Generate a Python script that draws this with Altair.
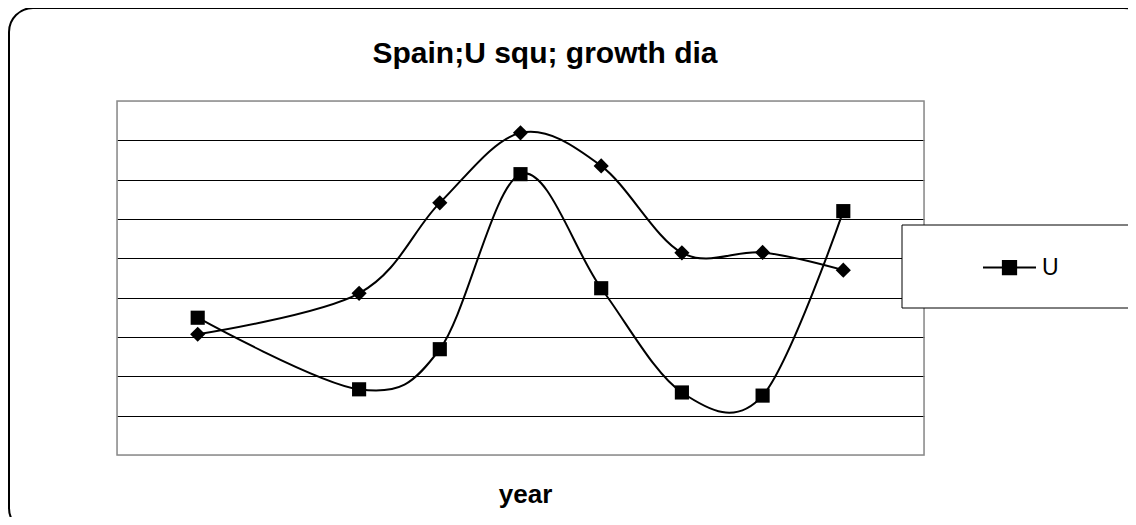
import altair as alt
import pandas as pd

# ---- data ----
years = [1, 3, 4, 5, 6, 7, 8, 9]
u_values = [3.49, 1.67, 2.69, 7.14, 4.24, 1.59, 1.51, 6.20]
growth_values = [3.07, 4.11, 6.41, 8.19, 7.35, 5.14, 5.15, 4.70]
u_label = "U"
title_text = "Spain;U squ; growth dia"
x_title = "year"
grid_values = [1, 2, 3, 4, 5, 6, 7, 8]

W, H = 807, 354
FONT = "Liberation Sans"

u_df = pd.DataFrame({"year": years, "value": u_values, "series": [u_label] * len(years)})
g_df = pd.DataFrame({"year": years, "value": growth_values})

x_enc = alt.X(
    "year:Q",
    scale=alt.Scale(domain=[0, 10], nice=False, zero=False),
    axis=alt.Axis(
        labels=False, ticks=False, domain=False, grid=False, title=x_title,
        titleFont=FONT, titleFontSize=26, titleFontWeight="bold", titleColor="black",
        titleBaseline="alphabetic", titleY=47, titleX=408, titleAlign="center",
    ),
)
y_enc = alt.Y(
    "value:Q",
    scale=alt.Scale(domain=[0, 9], nice=False, zero=False),
    axis=alt.Axis(
        values=grid_values, labels=False, ticks=False, domain=False, grid=True,
        gridColor="black", gridWidth=1, gridOpacity=1, title=None,
    ),
)

one = alt.Data(values=[{}])

outer = alt.Chart(one).mark_rect(
    cornerRadius=24, fillOpacity=0, stroke="black", strokeWidth=2
).encode(x=alt.value(-108), x2=alt.value(1031), y=alt.value(-93), y2=alt.value(431))

title_mark = alt.Chart(one).mark_text(
    text=title_text, font=FONT, fontSize=30, fontWeight="bold", color="black",
    align="center", baseline="alphabetic",
).encode(x=alt.value(428), y=alt.value(-38))

plot_border = alt.Chart(one).mark_rect(
    fillOpacity=0, stroke="#8a8a8a", strokeWidth=1.5
).encode(x=alt.value(0), x2=alt.value(W), y=alt.value(0), y2=alt.value(H))

growth = alt.Chart(g_df).mark_line(
    interpolate="cardinal", color="black", strokeWidth=2,
    point=alt.OverlayMarkDef(shape="diamond", size=230, filled=True, color="black", opacity=1),
).encode(x=x_enc, y=y_enc)

leg = alt.Legend(
    title=None, orient="none", legendX=865, legendY=139,
    symbolType="M-1,0H1M-0.25,-0.25H0.25V0.25H-0.25Z", symbolSize=2809,
    symbolStrokeWidth=2, symbolFillColor="black", symbolStrokeColor="black", symbolOpacity=1,
    labelFont=FONT, labelFontSize=23, labelColor="black", labelOffset=5, padding=0,
)

u_line = alt.Chart(u_df).mark_line(
    interpolate="cardinal", strokeWidth=2,
    point=alt.OverlayMarkDef(shape="square", size=200, filled=True, opacity=1),
).encode(
    x="year:Q", y="value:Q",
    color=alt.Color("series:N", scale=alt.Scale(domain=[u_label], range=["black"]), legend=leg),
)

legend_box = alt.Chart(one).mark_rect(
    fill="white", stroke="black", strokeWidth=1
).encode(x=alt.value(785), x2=alt.value(1012), y=alt.value(124), y2=alt.value(207))

chart = alt.layer(outer, title_mark, plot_border, growth, u_line, legend_box).properties(
    width=W, height=H,
    autosize=alt.AutoSizeParams(type="none"),
    padding={"left": 109, "top": 93, "right": 204, "bottom": 62},
).configure_view(stroke=None).configure(background="white")

chart.save("out.html", embed_options={"renderer": "svg", "actions": False})
